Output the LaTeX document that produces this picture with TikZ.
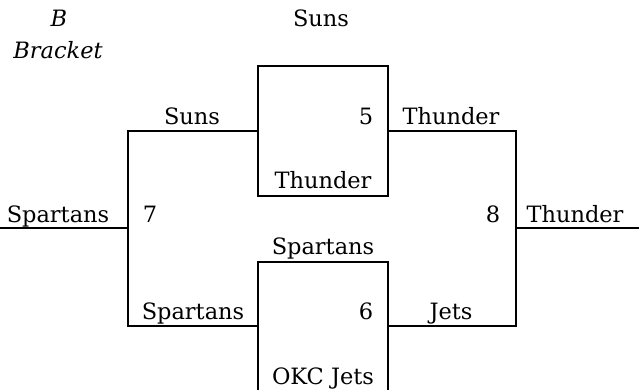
\documentclass[tikz,border=0pt]{standalone}
\usepackage{fontspec}
\setmainfont{DejaVu Serif}
\begin{document}
\begin{tikzpicture}[x=1pt,y=-1pt,
  ln/.style={line width=2.2pt},
  lbl/.style={anchor=base,inner sep=0pt,font=\fontsize{22.5}{25}\selectfont}]
\useasboundingbox (0,0) rectangle (639,390);
% coordinates
\coordinate (l0) at (0,228);
\coordinate (lv1) at (128,228);
\coordinate (lt) at (128,131);
\coordinate (lb) at (128,326);
\coordinate (tb1) at (258,131);
\coordinate (tbTL) at (258,66);
\coordinate (tbTR) at (388,66);
\coordinate (tbBL) at (258,196);
\coordinate (tbBR) at (388,196);
\coordinate (tbR) at (388,131);
\coordinate (bbL) at (258,326);
\coordinate (bbTL) at (258,262);
\coordinate (bbTR) at (388,262);
\coordinate (bbBL) at (258,392);
\coordinate (bbBR) at (388,392);
\coordinate (bbR) at (388,326);
\coordinate (rt) at (516,131);
\coordinate (rb) at (516,326);
\coordinate (rv) at (516,228);
\coordinate (r0) at (639,228);
% lines
\draw[ln] (l0) -- (lv1);
\draw[ln] (tb1) -- (lt) -- (lb) -- (bbL);
\draw[ln] (tbBL) -- (tbTL) -- (tbTR) -- (tbBR) -- cycle;
\draw[ln] (bbBL) -- (bbTL) -- (bbTR) -- (bbBR);
\draw[ln] (tbR) -- (rt) -- (rb) -- (bbR);
\draw[ln] (rv) -- (r0);
% labels
\node[lbl,font=\fontsize{22.5}{25}\selectfont\itshape] (tB) at (59,27) {B};
\node[lbl,font=\fontsize{22.5}{25}\selectfont\itshape] (tBr) at (58,59) {Bracket};
\node[lbl] (t1) at (321,27) {Suns};
\node[lbl] (t2) at (192,125) {Suns};
\node[lbl] (t3) at (366,125) {5};
\node[lbl] (t4) at (451,125) {Thunder};
\node[lbl] (t5) at (323,188) {Thunder};
\node[lbl] (t6) at (58,222) {Spartans};
\node[lbl] (t7) at (150,222) {7};
\node[lbl] (t8) at (493,222) {8};
\node[lbl] (t9) at (575,222) {Thunder};
\node[lbl] (t10) at (323,254) {Spartans};
\node[lbl] (t11) at (193,319) {Spartans};
\node[lbl] (t12) at (366,319) {6};
\node[lbl] (t13) at (451,319) {Jets};
\node[lbl] (t14) at (323,384) {OKC Jets};
\end{tikzpicture}
\end{document}
